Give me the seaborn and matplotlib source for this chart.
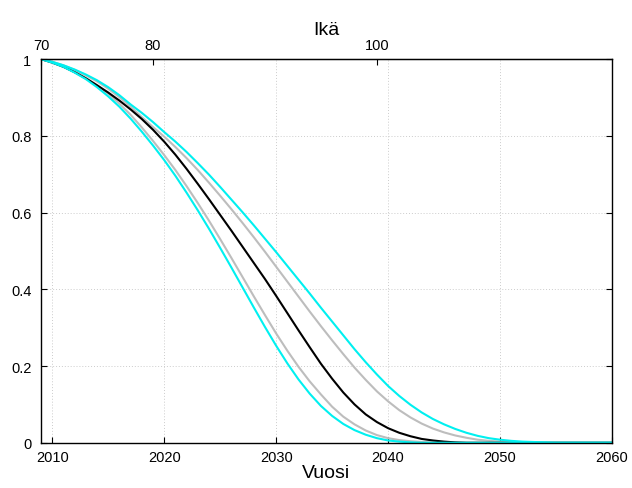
import numpy as np
import pandas as pd
import matplotlib
matplotlib.use('Agg')
import seaborn as sns
from matplotlib import pyplot as plt

years = list(range(2009, 2061))

# survival share
black = [1.000, 0.991, 0.980, 0.966, 0.950, 0.932, 0.913, 0.892, 0.869, 0.844,
         0.816, 0.785, 0.751, 0.714, 0.675, 0.635, 0.594, 0.553, 0.511, 0.469,
         0.427, 0.383, 0.338, 0.293, 0.249, 0.206, 0.167, 0.131, 0.100, 0.074,
         0.054, 0.038, 0.026, 0.017, 0.010, 0.006, 0.003, 0.001, 0.0, 0.0,
         0.0, 0.0, 0.0, 0.0, 0.0, 0.0, 0.0, 0.0, 0.0, 0.0, 0.0, 0.0]
upper_cyan = [1.000, 0.993, 0.984, 0.973, 0.960, 0.945, 0.927, 0.906, 0.882, 0.860,
              0.836, 0.810, 0.785, 0.758, 0.729, 0.699, 0.667, 0.634, 0.601, 0.567,
              0.532, 0.497, 0.461, 0.425, 0.389, 0.352, 0.316, 0.280, 0.244, 0.210,
              0.178, 0.148, 0.122, 0.099, 0.079, 0.062, 0.048, 0.036, 0.026, 0.018,
              0.012, 0.008, 0.005, 0.003, 0.002, 0.001, 0.0, 0.0, 0.0, 0.0, 0.0, 0.0]
upper_gray = [1.000, 0.993, 0.984, 0.972, 0.958, 0.942, 0.923, 0.901, 0.876, 0.849,
              0.823, 0.798, 0.771, 0.742, 0.711, 0.678, 0.644, 0.609, 0.573, 0.536,
              0.498, 0.459, 0.420, 0.381, 0.342, 0.304, 0.267, 0.231, 0.196, 0.164,
              0.134, 0.108, 0.085, 0.066, 0.050, 0.037, 0.027, 0.019, 0.013, 0.008,
              0.005, 0.003, 0.001, 0.0, 0.0, 0.0, 0.0, 0.0, 0.0, 0.0, 0.0, 0.0]
lower_gray = [1.000, 0.993, 0.982, 0.968, 0.951, 0.932, 0.910, 0.884, 0.855, 0.822,
              0.787, 0.750, 0.711, 0.669, 0.625, 0.579, 0.531, 0.482, 0.432, 0.382,
              0.333, 0.285, 0.240, 0.198, 0.160, 0.126, 0.094, 0.068, 0.048, 0.032,
              0.020, 0.012, 0.007, 0.004, 0.002, 0.001, 0.0, 0.0, 0.0, 0.0,
              0.0, 0.0, 0.0, 0.0, 0.0, 0.0, 0.0, 0.0, 0.0, 0.0, 0.0, 0.0]
lower_cyan = [1.000, 0.991, 0.980, 0.965, 0.948, 0.927, 0.903, 0.876, 0.845, 0.811,
              0.775, 0.737, 0.696, 0.652, 0.606, 0.558, 0.508, 0.457, 0.405, 0.353,
              0.302, 0.253, 0.207, 0.165, 0.128, 0.096, 0.070, 0.049, 0.033, 0.021,
              0.012, 0.006, 0.003, 0.001, 0.0, 0.0, 0.0, 0.0, 0.0, 0.0,
              0.0, 0.0, 0.0, 0.0, 0.0, 0.0, 0.0, 0.0, 0.0, 0.0, 0.0, 0.0]

age_ticks = [70, 80, 100]
birth_year = 1939

sns.set_style("ticks", {'axes.edgecolor': 'black', 'text.color': 'black',
                        'xtick.color': 'black', 'ytick.color': 'black',
                        'axes.labelcolor': 'black'})
plt.rcParams['font.family'] = ['Liberation Sans', 'DejaVu Sans']
plt.rcParams['xtick.direction'] = 'in'
plt.rcParams['ytick.direction'] = 'in'

fig = plt.figure(figsize=(6.32, 4.89), dpi=100)
axe = fig.add_axes([0.0649, 0.0925, 0.9035, 0.7845])

pd_data = pd.DataFrame({'Vuosi': years})
series = [('upper_gray', upper_gray, '#bdbdbd'),
          ('lower_gray', lower_gray, '#bdbdbd'),
          ('black', black, 'black'),
          ('upper_cyan', upper_cyan, '#00f0f0'),
          ('lower_cyan', lower_cyan, '#00f0f0')]
for name, vals, col in series:
    pd_data[name] = vals
    sns.lineplot(data=pd_data, x='Vuosi', y=name, color=col, linewidth=1.5, ax=axe)

axe.set_xlim(2009, 2060)
axe.set_ylim(0, 1)
axe.set_xticks([2010, 2020, 2030, 2040, 2050, 2060])
axe.set_yticks([0, 0.2, 0.4, 0.6, 0.8, 1])
axe.set_yticklabels(['0', '0.2', '0.4', '0.6', '0.8', '1'])
axe.tick_params(axis='both', labelsize=10.5, length=4, width=0.8, right=True,
                colors='black')
axe.tick_params(axis='x', top=False, pad=5)
axe.tick_params(axis='y', pad=7)
axe.grid(True, color='#cccccc', linestyle=(0, (1, 2)), linewidth=0.7)
for s in axe.spines.values():
    s.set_linewidth(1.0)
    s.set_color('black')
axe.set_xlabel('Vuosi', fontsize=14, labelpad=0, color='black')
axe.set_ylabel('')

sec = axe.secondary_xaxis('top', functions=(lambda y: y - birth_year, lambda a: a + birth_year))
sec.set_xticks(age_ticks)
sec.tick_params(axis='x', direction='in', labelsize=10.5, length=4, width=0.8, pad=5,
                colors='black')
sec.set_xlabel('Ikä', fontsize=14, labelpad=3, color='black')

plt.savefig('out.png', dpi=100)
